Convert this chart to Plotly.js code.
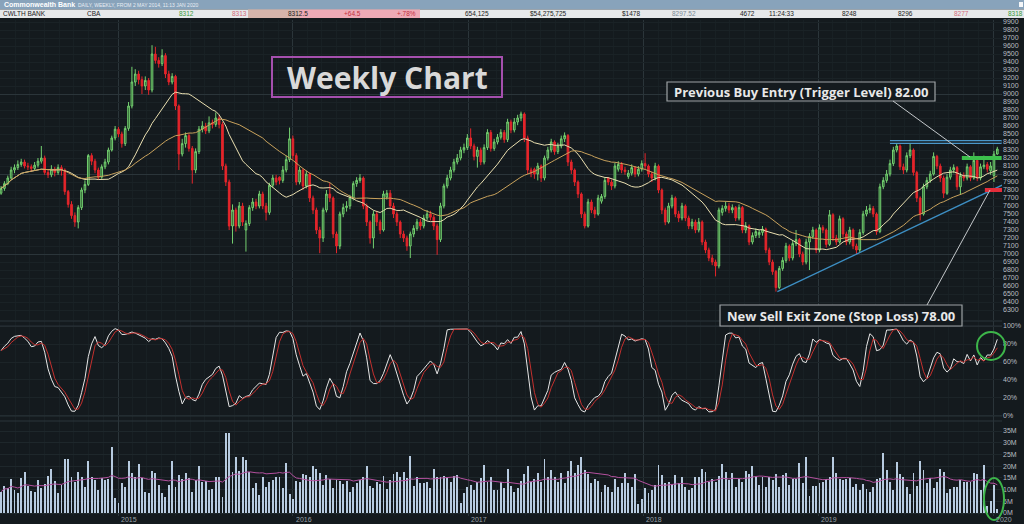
<!DOCTYPE html>
<html><head><meta charset="utf-8">
<script src="https://cdn.plot.ly/plotly-3.0.1.min.js"></script>
<style>html,body{margin:0;padding:0;background:#141a1e;overflow:hidden}#chart{width:1024px;height:524px}</style>
</head><body><div id="chart"></div>
<script>
// ---------- DATA (weekly, from 2 May 2014; prices in cents) ----------
const firstWeek = '2014-05-02';
const opens = [
7760,7820,7880,7950,8050,8080,8120,8150,8100,8090,
8070,8110,8160,8200,8020,7990,8060,8020,8080,8050,
7780,7620,7480,7400,7580,7800,7870,8230,8160,8050,
7960,8090,8150,8300,8450,8560,8500,8380,8570,8850,
9150,9250,9180,9100,9170,9050,9500,9420,9380,9480,
9250,9150,9220,8850,8250,8380,8480,8320,8050,8280,
8560,8600,8540,8640,8620,8700,8620,8100,7900,7350,
7550,7350,7600,7300,7380,7580,7650,7600,7750,7600,
7520,7860,7950,7960,7920,8050,8180,8440,8230,7900,
8050,7850,8000,7700,7550,7300,7200,7550,7750,7700,
7250,7100,7500,7580,7600,7700,7880,7920,7950,7600,
7400,7200,7500,7400,7300,7710,7760,7600,7500,7400,
7250,7200,7100,7250,7320,7400,7350,7450,7500,7460,
7350,7180,7600,7850,7950,8050,8150,8200,8300,8330,
8450,8350,8220,8300,8150,8330,8520,8320,8400,8460,
8520,8430,8650,8550,8650,8700,8750,8450,8050,8060,
8000,8100,7950,8200,8300,8400,8280,8350,8440,8480,
8150,8050,7900,7750,7500,7350,7650,7550,7500,7660,
7720,7950,7900,7850,8060,8120,8050,7970,8010,8080,
8000,8060,8130,8100,8000,7950,8100,7800,7550,7400,
7600,7700,7500,7450,7600,7450,7350,7400,7300,7400,
7150,7050,6950,6900,6850,7520,7570,7600,7550,7580,
7450,7580,7300,7350,7150,7230,7240,7270,7310,7050,
6900,6780,6580,6820,6920,7100,6950,7130,7180,7000,
6900,7150,7220,7300,7050,7330,7300,7120,7490,7200,
7150,7440,7250,7150,7300,7100,7050,7270,7500,7550,
7570,7500,7280,7840,7920,8000,8130,8300,8350,8090,
8050,8230,8300,8020,7700,7500,7840,7920,8000,8220,
8100,7950,7760,7960,8050,8080,7840,7980,7950,8090,
7950,8170,7950,8090,8120,8040,7980,8250];
const highs = [
7850,7910,7980,8090,8120,8170,8190,8180,8140,8120,
8150,8200,8350,8230,8060,8110,8090,8120,8110,8070,
7800,7660,7520,7610,7830,7920,8250,8260,8190,8080,
8120,8190,8330,8480,8600,8590,8530,8600,8900,9340,
9310,9290,9220,9220,9200,9610,9590,9460,9560,9510,
9290,9260,9240,8870,8440,8520,8510,8350,8320,8600,
8660,8640,8720,8680,8770,8740,8650,8130,7930,7620,
7580,7650,7640,7420,7610,7700,7690,7790,7780,7640,
7890,7990,7990,7970,8100,8230,8580,8480,8260,8090,
8070,8040,8020,7730,7580,7340,7580,7800,7890,7720,
7280,7530,7630,7660,7740,7910,7960,8000,7970,7630,
7420,7540,7540,7430,7790,7800,7800,7640,7530,7420,
7290,7230,7280,7360,7440,7440,7490,7550,7540,7490,
7380,7640,7880,7990,8090,8190,8250,8340,8380,8500,
8570,8380,8340,8330,8370,8560,8550,8440,8500,8560,
8550,8690,8680,8700,8740,8780,8770,8480,8080,8080,
8140,8120,8230,8340,8440,8420,8390,8480,8520,8500,
8180,8070,7920,7770,7530,7690,7680,7590,7740,7750,
7960,7960,7930,8140,8160,8150,8090,8050,8120,8100,
8100,8170,8260,8120,8030,8140,8120,7820,7580,7640,
7740,7720,7540,7640,7620,7480,7440,7430,7450,7420,
7180,7080,6990,6930,7580,7610,7650,7640,7620,7600,
7620,7600,7400,7370,7270,7320,7300,7350,7330,7080,
6930,6800,6850,6960,7140,7120,7170,7300,7200,7030,
7190,7260,7340,7320,7370,7360,7320,7550,7510,7240,
7480,7460,7280,7340,7320,7130,7310,7540,7600,7620,
7600,7520,7880,7960,8050,8180,8340,8390,8370,8130,
8270,8380,8320,8040,7720,7880,7960,8040,8270,8240,
8130,7980,8000,8090,8120,8100,8020,8020,8130,8110,
8270,8190,8130,8230,8150,8150,8290,8340];
const lows = [
7740,7790,7860,7930,8010,8050,8090,8070,8050,8030,
8040,8080,8130,7990,7950,7960,7970,7990,7980,7740,
7580,7440,7340,7320,7550,7760,7850,8110,8010,7930,
7940,8060,8120,8280,8420,8460,8330,8350,8540,8820,
9100,9120,9000,9050,8990,9020,9380,9330,9350,9200,
9110,9120,8800,8050,8220,8330,8280,7880,8010,8250,
8520,8500,8510,8570,8590,8570,8050,7850,7300,7130,
7280,7320,7350,7030,7350,7540,7560,7570,7560,7420,
7490,7830,7860,7870,7890,8020,8150,8180,7860,7870,
7800,7820,7650,7500,7250,7010,7150,7520,7650,7200,
7010,7060,7460,7530,7560,7670,7840,7890,7560,7350,
7130,7070,7350,7250,7280,7680,7560,7450,7350,7200,
7150,7040,6950,7210,7290,7300,7320,7420,7420,7300,
6990,7150,7570,7820,7920,8020,8120,8170,8260,8300,
8310,8170,8080,8110,8120,8300,8280,8290,8370,8430,
8390,8400,8510,8520,8610,8660,8400,8000,7960,7940,
7920,7900,7920,8170,8270,8240,8250,8320,8400,8100,
8000,7850,7700,7450,7320,7330,7510,7450,7480,7630,
7690,7860,7800,7820,8030,8010,7990,7940,7980,7960,
7970,8030,8060,7960,7900,7920,7760,7500,7360,7380,
7570,7460,7400,7420,7410,7310,7310,7260,7270,7110,
7010,6910,6860,6720,6820,7480,7530,7510,7510,7410,
7420,7260,7260,7110,7120,7200,7200,7230,7010,6860,
6740,6530,6560,6790,6890,6910,6920,7100,6960,6860,
6870,6800,7190,7010,7020,7260,7080,7100,7160,7110,
7130,7210,7110,7120,7060,7000,7020,7240,7470,7510,
7460,7240,7260,7810,7890,7970,8100,8270,8050,8000,
8020,8200,7980,7650,7420,7480,7810,7890,7980,8060,
7900,7700,7740,7930,8010,7800,7740,7910,7920,7910,
7930,7910,7920,8060,8020,7990,7900,8240];
const closes = [
7820,7880,7950,8050,8080,8120,8150,8100,8090,8070,
8110,8160,8200,8020,7990,8060,8020,8080,8050,7780,
7620,7480,7400,7580,7800,7870,8230,8160,8050,7960,
8090,8150,8300,8450,8560,8500,8380,8570,8850,9150,
9250,9180,9100,9170,9050,9500,9420,9380,9480,9250,
9150,9220,8850,8250,8380,8480,8320,8050,8280,8560,
8600,8540,8640,8620,8700,8620,8100,7900,7350,7550,
7350,7600,7400,7380,7580,7650,7600,7750,7600,7520,
7860,7950,7900,7920,8050,8180,8440,8230,7900,8050,
7850,8000,7700,7550,7300,7200,7550,7750,7700,7250,
7100,7500,7580,7600,7700,7880,7920,7950,7600,7400,
7200,7500,7400,7300,7750,7760,7600,7500,7400,7250,
7200,7100,7250,7320,7400,7350,7450,7500,7460,7350,
7180,7600,7850,7950,8050,8150,8200,8300,8330,8450,
8350,8220,8300,8150,8330,8520,8320,8400,8460,8520,
8430,8650,8550,8650,8700,8750,8450,8050,8010,8000,
8100,7950,8200,8300,8400,8280,8350,8440,8480,8150,
8050,7900,7750,7500,7350,7650,7550,7500,7700,7720,
7920,7900,7850,8100,8120,8050,8030,8010,8080,8000,
8060,8130,8100,8000,7950,8100,7800,7550,7400,7600,
7700,7500,7450,7600,7450,7350,7400,7300,7400,7150,
7050,6950,6900,6850,7550,7570,7600,7550,7580,7450,
7580,7300,7350,7150,7230,7280,7270,7310,7050,6900,
6780,6580,6820,6920,7100,6950,7130,7180,7000,6900,
7150,7220,7300,7050,7330,7300,7120,7490,7200,7150,
7440,7250,7150,7300,7100,7050,7270,7500,7550,7570,
7500,7280,7840,7920,8000,8130,8300,8350,8090,8050,
8230,8300,8020,7700,7500,7840,7920,8000,8220,8100,
7950,7760,7960,8050,8080,7840,7980,7950,8090,7950,
8170,7950,8090,8110,8060,8100,8248,8312];
const volumesM = [
9.1,11.5,10.5,14.4,9.8,8.7,14.8,17.4,11.5,9.5,
9.1,14,10.5,12.4,15.8,18.6,13.8,8.4,12,23,
23,15.2,13.4,17.6,15.5,11.2,22.2,15.5,14,9.8,
14.8,14,14.4,28.3,6.3,4.4,13,11.2,22,17,
15.5,21,14.8,9.1,8.4,18,17.2,12,8.4,7,
12,22.3,11.2,16.2,14.4,17.2,14.8,9.1,14,20,
13.4,13.7,9.8,10.1,15.5,15.5,7,34,34.3,17.6,
23.8,18,23.8,22.6,17.6,10.5,13,7.7,15.2,11.2,
13.4,14,15.5,15.5,10.5,21.5,8.1,5.8,13.8,13.4,
16.6,16.2,15.5,20,18.8,17.2,12,16.2,14.4,10.5,
14,13.8,12.4,13.8,9.1,11.2,12.7,14,15.5,20,
11.5,10.5,13.4,12.4,15.8,10.1,14,16.6,17.6,15.5,
17.6,14.8,24.3,11.5,15.5,12.7,13,13.4,10.5,18.6,
15.5,15.5,15.8,15.5,13.4,15.8,16.2,4.4,8.7,11.2,
12,9.8,13.4,14.8,20.5,13.4,15.5,9.8,10,13.4,
10.5,18.6,11.5,9.1,10.5,13.8,16.6,20,13.4,14.4,
17.2,13.4,22.9,15.2,18.4,15.2,13.4,17,13,18,
22.3,17,20.5,23.8,18.4,16.6,12.7,14.5,13.8,9.1,
12,11,9.1,14.4,11.2,13,17,12.7,11.2,16.6,
3.8,5.8,10.5,8.4,9.8,12,20.5,16.2,12.7,13.4,
12.4,16.2,12.7,15.5,11.2,9.8,10.5,15.5,15.5,18.6,
17.6,13.4,14.4,13.4,15.8,20.9,17.6,14,17.2,11.2,
14.4,13.4,18,16.6,20,15.5,12,15.2,11,15.5,
14,16.6,11.2,16.2,17.2,12,14.4,14.4,21.2,13,
24,7.3,11.5,11.5,12.7,13.2,14.4,15.5,24,17.2,
14.4,14,14.4,14.8,11.2,12.4,9.8,12.4,10.1,9.1,
11.2,14.4,14.8,25.5,18.3,13.4,9.8,21.9,16.6,15.5,
11,8.1,17.2,11.5,22.2,18.3,12.9,14.8,10.5,13.4,
18.6,17.6,8.4,10.1,11,11,14.1,13.4,13.4,13.4,
17.2,16.5,9.8,20.5,3,5.3,12,1.6];
const yearLabels = ['2015','2016','2017','2018','2019','2020'];
const priceTicks = [6300,6400,6500,6600,6700,6800,6900,7000,7100,7200,7300,7400,7500,7600,7700,7800,7900,8000,8100,8200,8300,8400,8500,8600,8700,8800,8900,9000,9100,9200,9300,9400,9500,9600,9700,9800,9900];
const priceMajor = [7000,8000,9000];
const stochTicks = [0,20,40,60,80,100];
const stochLabels = ['0%','20%','40%','60%','80%','100%'];
const volTicks = [0,5,10,15,20,25,30,35];
const volLabels = ['0M','5M','10M','15M','20M','25M','30M','35M'];
// drawn levels
const resistanceLine = {x:['2019-05-31','2020-01-19'], y:[8400,8400]};
const buyLevel = {x:['2019-10-28','2020-01-19'], y:[8200,8200]};
const stopLevel = {x:['2019-12-15','2020-01-20'], y:[7800,7800]};
const trendLine = {x:['2018-10-08','2020-01-20'], y:[6530,7860]};
const headerTitle = 'Commonwealth Bank';
const headerSub = 'DAILY, WEEKLY, FROM 2 MAY 2014, 11:13 JAN 2020';
const quoteRow = [
 ['CWLTH BANK',1,'#222'],['CBA',85,'#222'],['8312',177,'#3a9a3a'],['8313',230,'#d46a7a'],
 ['8312.5',286,'#222'],['+64.5',342,'#c43040'],['+.78%',395,'#c43040'],['654,125',463,'#222'],
 ['$54,275,725',528,'#222'],['$1478',620,'#222'],['8297.52',670,'#7a8a96'],['4672',738,'#222'],
 ['11:24:33',767,'#222'],['8248',840,'#222'],['8296',896,'#222'],['8277',952,'#d46a7a'],['8318',1006,'#3a9a3a']];

// ---------- derived indicators ----------
const DAY = 864e5;
const t0 = Date.parse(firstWeek + 'T00:00:00Z');
const dates = closes.map((_, i) => new Date(t0 + i*7*DAY).toISOString().slice(0,10));
function sma(a, n){ return a.map((_, i) => { const s = Math.max(0, i-n+1); let t=0; for(let j=s;j<=i;j++) t+=a[j]; return t/(i-s+1); }); }
const ma20 = sma(closes, 20), ma40 = sma(closes, 40);
const rawK = closes.map((c, i) => { const s = Math.max(0, i-13); let hh=-1e9, ll=1e9; for(let j=s;j<=i;j++){hh=Math.max(hh,highs[j]); ll=Math.min(ll,lows[j]);} return hh>ll ? (c-ll)/(hh-ll)*100 : 50; });
const kLine = sma(rawK, 3), dLine = sma(kLine, 3);
const volMA = sma(volumesM, 20);

// ---------- layout helpers ----------
const W = 1024, H = 524;
const P = x => x / W, Q = y => 1 - y / H;
const dpp = 1826 / 875;
const iso = ms => new Date(ms).toISOString().replace('T',' ').slice(0,19);
const xRange = [iso(Date.UTC(2015,0,1) - 118*dpp*DAY), iso(Date.UTC(2020,0,1) + 9*dpp*DAY)];
const xEnd = P(1002);

const traces = [
 {type:'candlestick', x:dates, open:opens, high:highs, low:lows, close:closes, xaxis:'x', yaxis:'y',
  increasing:{line:{color:'#74d070', width:1}, fillcolor:'#24502a'},
  decreasing:{line:{color:'#e5252b', width:1}, fillcolor:'#e5252b'},
  whiskerwidth:0, hoverinfo:'skip', showlegend:false},
 {type:'scatter', mode:'lines', x:dates, y:ma20, line:{color:'#eadfb0', width:1}, hoverinfo:'skip'},
 {type:'scatter', mode:'lines', x:dates, y:ma40, line:{color:'#c9a25c', width:1}, hoverinfo:'skip'},
 {type:'scatter', mode:'lines', x:trendLine.x, y:trendLine.y, line:{color:'#3d8fc4', width:1.3}, hoverinfo:'skip'},
 {type:'scatter', mode:'lines', x:resistanceLine.x, y:resistanceLine.y, line:{color:'#4a96c8', width:4}, hoverinfo:'skip'},
 {type:'scatter', mode:'lines', x:resistanceLine.x, y:resistanceLine.y, line:{color:'#141a1e', width:1.5}, hoverinfo:'skip'},
 {type:'scatter', mode:'lines', x:buyLevel.x, y:buyLevel.y, line:{color:'#3cc04c', width:4}, hoverinfo:'skip'},
 {type:'scatter', mode:'lines', x:stopLevel.x, y:stopLevel.y, line:{color:'#e32d3a', width:4}, hoverinfo:'skip'},
 {type:'scatter', mode:'lines', x:dates, y:kLine, xaxis:'x', yaxis:'y2', line:{color:'#e6e6e6', width:1}, hoverinfo:'skip'},
 {type:'scatter', mode:'lines', x:dates, y:dLine, xaxis:'x', yaxis:'y2', line:{color:'#c4302e', width:1}, hoverinfo:'skip'},
 {type:'bar', x:dates, y:volumesM, xaxis:'x', yaxis:'y3', marker:{color:'#b7cbe0', line:{width:0}}, width:4*DAY, hoverinfo:'skip'},
 {type:'scatter', mode:'lines', x:dates, y:volMA, xaxis:'x', yaxis:'y3', line:{color:'#b4509e', width:1}, hoverinfo:'skip'}
];

const tickFont = {family:'Liberation Sans, Arial, sans-serif', size:7, color:'#b9bec2'};
const shapes = [
 // header
 {type:'rect', xref:'paper', yref:'paper', x0:0, x1:1, y0:Q(9.5), y1:1, fillcolor:'#88a3bb', line:{width:0}, layer:'above'},
 {type:'rect', xref:'paper', yref:'paper', x0:0, x1:1, y0:Q(18), y1:Q(9.5), fillcolor:'#e6e8ea', line:{width:0}, layer:'above'},
 {type:'rect', xref:'paper', yref:'paper', x0:P(248), x1:P(300), y0:Q(18), y1:Q(9.5), fillcolor:'#d6b4ab', line:{width:0}, layer:'above'},
 {type:'rect', xref:'paper', yref:'paper', x0:P(300), x1:P(420), y0:Q(18), y1:Q(9.5), fillcolor:'#eeaab6', line:{width:0}, layer:'above'},
 {type:'rect', xref:'paper', yref:'paper', x0:P(1019), x1:P(1023), y0:Q(7), y1:Q(2), fillcolor:'#f4f6f8', line:{width:0}, layer:'above'},
 // panel separators
 {type:'line', xref:'paper', yref:'paper', x0:0, x1:xEnd, y0:Q(321), y1:Q(321), line:{color:'#2b353a', width:1}},
 {type:'line', xref:'paper', yref:'paper', x0:0, x1:xEnd, y0:Q(421), y1:Q(421), line:{color:'#2b353a', width:1}},
 {type:'line', xref:'paper', yref:'y2', x0:0, x1:xEnd, y0:100, y1:100, line:{color:'#2b353a', width:1}},
 {type:'line', xref:'paper', yref:'y2', x0:0, x1:xEnd, y0:0, y1:0, line:{color:'#2b353a', width:1}},
 // title box
 {type:'rect', xref:'paper', yref:'paper', x0:P(272), x1:P(502), y0:Q(97), y1:Q(57), line:{color:'#a54fae', width:2}, fillcolor:'rgba(0,0,0,0)'},
 // note boxes
 {type:'rect', xref:'paper', yref:'paper', x0:P(667), x1:P(935), y0:Q(101), y1:Q(82), line:{color:'#9da2a5', width:1.2}, fillcolor:'#141a1e'},
 {type:'rect', xref:'paper', yref:'paper', x0:P(720), x1:P(962), y0:Q(326), y1:Q(305), line:{color:'#9da2a5', width:1.2}, fillcolor:'#141a1e'},
 // leader lines
 {type:'line', xref:'paper', yref:'paper', x0:P(893), y0:Q(101), x1:P(970), y1:Q(157), line:{color:'#c4c8cb', width:1}},
 {type:'line', xref:'paper', yref:'paper', x0:P(927), y0:Q(305), x1:P(990), y1:Q(190), line:{color:'#c4c8cb', width:1}},
 // circles
 {type:'circle', xref:'paper', yref:'paper', x0:P(977), x1:P(1005), y0:Q(360), y1:Q(332), line:{color:'#3db54a', width:2}},
 {type:'circle', xref:'paper', yref:'paper', x0:P(984), x1:P(1004), y0:Q(520), y1:Q(478), line:{color:'#3db54a', width:2}}
];

const annotations = [
 {xref:'paper', yref:'paper', x:P(2), y:Q(5), xanchor:'left', yanchor:'middle', showarrow:false,
  text:'<b>'+headerTitle+'</b>', font:{family:'Liberation Sans, Arial', size:7, color:'#ffffff'}},
 {xref:'paper', yref:'paper', x:P(76), y:Q(5.2), xanchor:'left', yanchor:'middle', showarrow:false,
  text:headerSub, font:{family:'Liberation Sans, Arial', size:5, color:'#e8eef4'}},
 {xref:'paper', yref:'paper', x:P(387), y:Q(77), xanchor:'center', yanchor:'middle', showarrow:false,
  text:'<b>Weekly Chart</b>', font:{family:'Open Sans, sans-serif', size:30, color:'#d9d9d9'}},
 {xref:'paper', yref:'paper', x:P(801), y:Q(91.5), xanchor:'center', yanchor:'middle', showarrow:false,
  text:'<b>Previous Buy Entry (Trigger Level) 82.00</b>', font:{family:'Open Sans, sans-serif', size:13, color:'#e8e8e8'}},
 {xref:'paper', yref:'paper', x:P(841), y:Q(315.5), xanchor:'center', yanchor:'middle', showarrow:false,
  text:'<b>New Sell Exit Zone (Stop Loss) 78.00</b>', font:{family:'Open Sans, sans-serif', size:13, color:'#e8e8e8'}}
];
quoteRow.forEach(([t, x, c]) => annotations.push({xref:'paper', yref:'paper', x:P(x), y:Q(14), xanchor:'left', yanchor:'middle',
  showarrow:false, text:t, font:{family:'Liberation Sans, Arial', size:6.5, color:c}}));
yearLabels.forEach(yl => annotations.push({xref:'x', yref:'paper', x:yl+'-01-01', y:Q(519), xanchor:'left', yanchor:'middle', xshift:1,
  showarrow:false, text:yl, font:{family:'Liberation Sans, Arial', size:7, color:'#9aa2a8'}}));

const layout = {
 width:W, height:H, margin:{l:0, r:0, t:0, b:0},
 paper_bgcolor:'#141a1e', plot_bgcolor:'#141a1e', showlegend:false, bargap:0,
 xaxis:{domain:[0, xEnd], range:xRange, type:'date', rangeslider:{visible:false}, showticklabels:false,
  tickvals:yearLabels.map(y => y+'-01-01'), gridcolor:'#2b353a', gridwidth:1, zeroline:false, showline:false, ticks:'',
  minor:{showgrid:true, dtick:'M1', gridcolor:'#182024', gridwidth:1}},
 yaxis:{domain:[Q(320), Q(20)], range:[6175, 9925], side:'right', tickvals:priceTicks, ticktext:priceTicks.map(String),
  tickfont:tickFont, gridcolor:'#1a2226', zeroline:false, showline:false, ticks:''},
 yaxis4:{overlaying:'y', range:[6175, 9925], side:'right', tickvals:priceMajor, showticklabels:false, gridcolor:'#2b353a', zeroline:false, showline:false},
 yaxis2:{domain:[Q(421), Q(321)], range:[-5.6, 105.6], side:'right', tickvals:stochTicks, ticktext:stochLabels,
  tickfont:tickFont, gridcolor:'#1c2428', zeroline:false, showline:false, ticks:''},
 yaxis3:{domain:[Q(516), Q(421)], range:[-1.28, 39.27], side:'right', tickvals:volTicks, ticktext:volLabels,
  tickfont:tickFont, gridcolor:'#1e272b', zeroline:false, showline:false, ticks:''},
 shapes:shapes, annotations:annotations, hovermode:false
};
traces.push({type:'scatter', x:[dates[0]], y:[7000], yaxis:'y4', mode:'markers', marker:{opacity:0}, hoverinfo:'skip'});
Plotly.newPlot('chart', traces, layout, {displayModeBar:false, staticPlot:true});
</script></body></html>
